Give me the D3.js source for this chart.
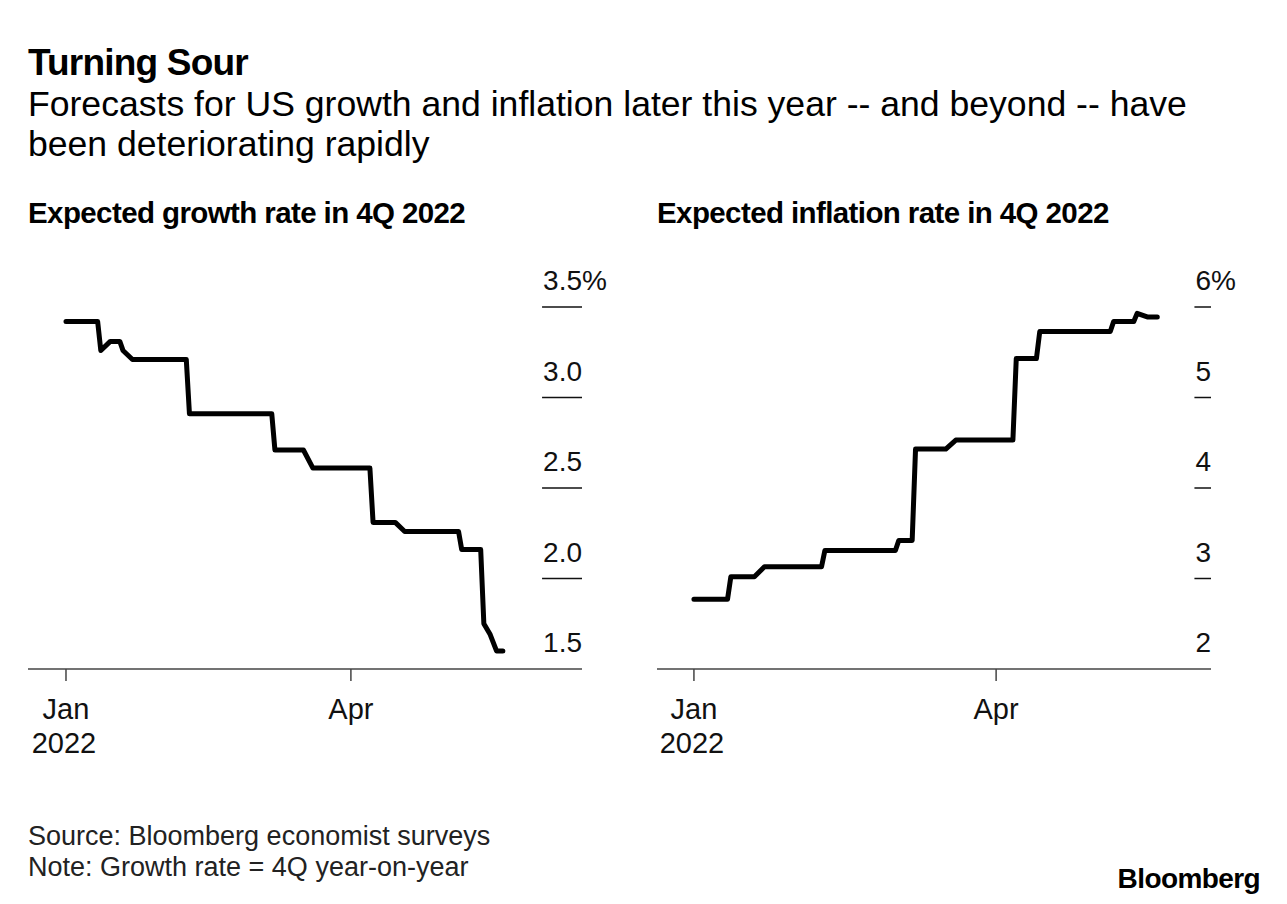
<!DOCTYPE html>
<html>
<head>
<meta charset="utf-8">
<script src="https://cdn.jsdelivr.net/npm/d3@7"></script>
<style>
  body { margin: 0; background: #fff; }
  svg { display: block; font-family: "Liberation Sans", Arial, sans-serif; }
</style>
</head>
<body>
<div id="chart"></div>
<script>
// growth forecast, 4Q 2022 (%)
const growthDates = ["2022-01-01","2022-01-11","2022-01-12","2022-01-15","2022-01-18","2022-01-19","2022-01-22",
  "2022-02-08","2022-02-09","2022-03-07","2022-03-08","2022-03-17","2022-03-20","2022-04-07","2022-04-08",
  "2022-04-15","2022-04-18","2022-05-05","2022-05-06","2022-05-12","2022-05-13","2022-05-15","2022-05-17","2022-05-19"];
const growthValues = [3.42,3.42,3.26,3.31,3.31,3.26,3.21,3.21,2.91,2.91,2.71,2.71,2.61,2.61,2.31,
  2.31,2.26,2.26,2.16,2.16,1.75,1.69,1.60,1.60];

// inflation forecast, 4Q 2022 (%)
const inflationDates = ["2022-01-01","2022-01-11","2022-01-12","2022-01-19","2022-01-22","2022-02-08","2022-02-09",
  "2022-03-02","2022-03-03","2022-03-07","2022-03-08","2022-03-17","2022-03-20","2022-04-06","2022-04-07",
  "2022-04-13","2022-04-14","2022-05-05","2022-05-06","2022-05-12","2022-05-13","2022-05-16","2022-05-19"];
const inflationValues = [2.77,2.77,3.02,3.02,3.13,3.13,3.31,3.31,3.42,3.42,4.43,4.43,4.53,4.53,5.43,
  5.43,5.73,5.73,5.84,5.84,5.93,5.89,5.89];

const growthTicks = [1.5, 2.0, 2.5, 3.0, 3.5];
const inflationTicks = [2, 3, 4, 5, 6];
const xTicks = ["2022-01-01", "2022-04-01"];

const W = 1287, H = 904;
const parse = d3.timeParse("%Y-%m-%d");

const svg = d3.select("#chart").append("svg")
    .attr("width", W)
    .attr("height", H);

// titles
svg.append("text").attr("x", 28).attr("y", 75)
    .text("Turning Sour")
    .style("font-size", "37px").style("font-weight", "bold").style("letter-spacing", "-0.8px");

svg.append("text").attr("x", 28).attr("y", 116)
    .text("Forecasts for US growth and inflation later this year -- and beyond -- have")
    .style("font-size", "35.6px");
svg.append("text").attr("x", 28).attr("y", 156)
    .text("been deteriorating rapidly")
    .style("font-size", "35.6px");

function panel(opts) {
    const { left, right, title, dates, values, ticks, domainX, fmt } = opts;
    const top = 307, bottom = 669;

    const x = d3.scaleTime()
        .domain(domainX.map(parse))
        .range([left, right]);
    const y = d3.scaleLinear()
        .domain([ticks[0], ticks[ticks.length - 1]])
        .range([bottom, top]);

    const g = svg.append("g");

    g.append("text").attr("x", left).attr("y", 223)
        .text(title)
        .style("font-size", "29.5px").style("font-weight", "bold").style("letter-spacing", "-0.6px");

    // y labels with underline ticks at the right edge
    ticks.forEach((t, i) => {
        const lbl = g.append("text")
            .attr("x", right).attr("y", y(t) - 17)
            .attr("text-anchor", "end")
            .text(fmt(t))
            .style("font-size", "28px").style("fill", "#111");
        const w = lbl.node().getComputedTextLength();
        if (i === ticks.length - 1) {
            g.append("text").attr("x", right).attr("y", y(t) - 17)
                .text("%").style("font-size", "28px").style("fill", "#111");
        }
        if (i > 0) {
            g.append("line")
                .attr("x1", right - w - 1).attr("x2", right)
                .attr("y1", y(t)).attr("y2", y(t))
                .attr("stroke", "#111").attr("stroke-width", 1.5);
        }
    });

    // x axis
    g.append("line")
        .attr("x1", left).attr("x2", right)
        .attr("y1", bottom).attr("y2", bottom)
        .attr("stroke", "#444").attr("stroke-width", 1.5);

    xTicks.forEach((d, i) => {
        const xx = x(parse(d));
        g.append("line")
            .attr("x1", xx).attr("x2", xx)
            .attr("y1", bottom).attr("y2", bottom + 12)
            .attr("stroke", "#444").attr("stroke-width", 1.5);
        g.append("text").attr("x", xx).attr("y", 719)
            .attr("text-anchor", "middle")
            .text(d3.timeFormat("%b")(parse(d)))
            .style("font-size", "29px").style("fill", "#111");
        if (i === 0) {
            g.append("text").attr("x", xx - 2).attr("y", 753)
                .attr("text-anchor", "middle")
                .text("2022")
                .style("font-size", "29px").style("fill", "#111");
        }
    });

    const pts = dates.map((d, i) => [parse(d), values[i]]);
    const line = d3.line()
        .x(d => x(d[0]))
        .y(d => y(d[1]));

    g.append("path")
        .datum(pts)
        .attr("d", line)
        .attr("fill", "none")
        .attr("stroke", "#000")
        .attr("stroke-width", 5)
        .attr("stroke-linejoin", "round")
        .attr("stroke-linecap", "round");
}

panel({
    left: 28, right: 582,
    title: "Expected growth rate in 4Q 2022",
    dates: growthDates, values: growthValues, ticks: growthTicks,
    domainX: ["2021-12-20", "2022-06-13"],
    fmt: d3.format(".1f")
});

panel({
    left: 657, right: 1211,
    title: "Expected inflation rate in 4Q 2022",
    dates: inflationDates, values: inflationValues, ticks: inflationTicks,
    domainX: ["2021-12-21", "2022-06-04"],
    fmt: d3.format("d")
});

// footer
svg.append("text").attr("x", 28).attr("y", 845)
    .text("Source: Bloomberg economist surveys")
    .style("font-size", "27px").style("fill", "#222");
svg.append("text").attr("x", 28).attr("y", 876)
    .text("Note: Growth rate = 4Q year-on-year")
    .style("font-size", "27px").style("fill", "#222");

svg.append("text").attr("x", 1260).attr("y", 888)
    .attr("text-anchor", "end")
    .text("Bloomberg")
    .style("font-size", "28px").style("font-weight", "bold").style("letter-spacing", "-0.6px");
</script>
</body>
</html>
